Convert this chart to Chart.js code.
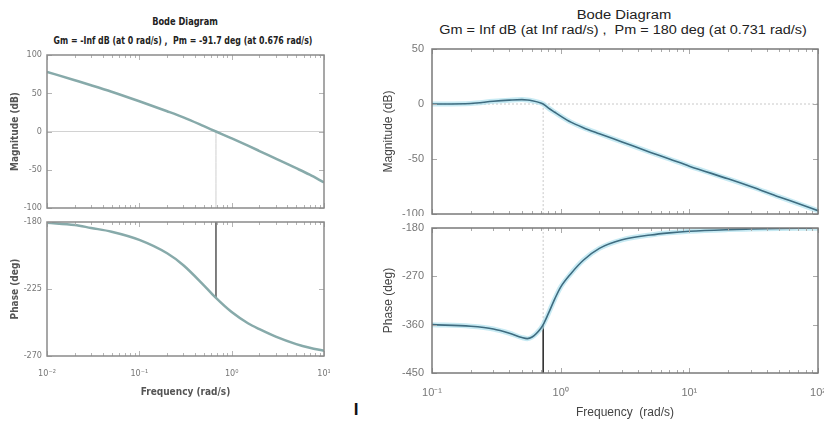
<!DOCTYPE html>
<html lang="en">
<head>
<meta charset="UTF-8">
<title>Bode Diagram</title>
<script src="https://cdn.jsdelivr.net/npm/chart.js"></script>
<style>
    body {
        margin: 0;
        width: 824px;
        height: 421px;
        background: #fff;
        position: relative;
        overflow: hidden;
        font-family: Arial, 'Liberation Sans', sans-serif;
    }
    canvas { position: absolute; }
    .ttl {
        position: absolute;
        white-space: pre;
        transform-origin: center center;
        color: #222;
    }
    .narrow { font-family: 'Liberation Sans Narrow', 'DejaVu Sans Condensed', 'Arial Narrow', Arial, sans-serif; font-weight: bold; font-size: 10px; }
    .wide { font-family: Arial, 'Liberation Sans', sans-serif; font-size: 12px; }
</style>
</head>
<body>
    <div class="ttl narrow" data-w="66" style="left:185px; top:21px;">Bode Diagram</div>
    <div class="ttl narrow" data-w="259" style="left:183px; top:40px;">Gm = -Inf dB (at 0 rad/s) ,  Pm = -91.7 deg (at 0.676 rad/s)</div>
    <div class="ttl wide" data-w="95" style="left:624px; top:15px;">Bode Diagram</div>
    <div class="ttl wide" data-w="367" style="left:623px; top:30px;">Gm = Inf dB (at Inf rad/s) ,  Pm = 180 deg (at 0.731 rad/s)</div>
    <div class="ttl" style="left:356px; top:410px; font: bold 17px Arial, sans-serif; color:#111;">I</div>

    <canvas id="magL" width="330" height="162" style="left:0; top:48px;"></canvas>
    <canvas id="phL" width="330" height="190" style="left:0; top:215px;"></canvas>
    <canvas id="magR" width="444" height="173" style="left:380px; top:43px;"></canvas>
    <canvas id="phR" width="444" height="199" style="left:380px; top:222px;"></canvas>

<script>
    // Left system
    const freqL = [0.01, 0.02, 0.03, 0.05, 0.1, 0.2, 0.3, 0.5, 0.676, 1, 1.5, 2, 3, 5, 7, 10];
    const magDbL = [78, 67, 60.5, 52, 39.5, 26.5, 18.5, 7, 0, -9, -18.5, -25.5, -35.5, -48, -56.5, -66.5];
    const phaseL = [-180.5, -182, -184, -186.5, -192, -201, -209, -222.5, -231, -240.5, -248, -252, -257, -262, -264.5, -266.5];
    const pmFreqL = 0.676;
    const pmPhaseL = -231;

    // Right system
    const freqR = [0.1, 0.2, 0.3, 0.4, 0.5, 0.55, 0.6, 0.7, 0.731, 0.8, 0.9, 1, 1.2, 1.5, 2, 3, 5, 7, 10, 20, 30, 50, 70, 100];
    const magDbR = [0, 0.5, 2.5, 3.5, 4, 3.7, 3, 1, 0, -3.5, -7.5, -11, -16.5, -21.5, -27, -34.5, -44, -50, -56.5, -68, -75, -84.5, -90.5, -97];
    const phaseR = [-360, -363, -368, -376, -384, -386, -383, -367, -360, -340, -312, -290, -265, -240, -218, -202, -193, -189, -186, -183, -182, -181, -180.5, -180.3];
    const pmFreqR = 0.731;

    // Axis ticks
    const xTicksL = [0.01, 0.1, 1, 10];
    const xLabelsL = ['10⁻²', '10⁻¹', '10⁰', '10¹'];
    const xTicksR = [0.1, 1, 10, 100];
    const xLabelsR = ['10⁻¹', '10⁰', '10¹', '10²'];
    const magTicksL = [-100, -50, 0, 50, 100];
    const phTicksL = [-270, -225, -180];
    const magTicksR = [-100, -50, 0, 50];
    const phTicksR = [-450, -360, -270, -180];

    const narrowFont = "'Liberation Sans Narrow', 'DejaVu Sans Condensed', 'Arial Narrow', Arial, sans-serif";
    const wideFont = "Arial, 'Liberation Sans', sans-serif";

    const pts = (xs, ys) => xs.map((x, i) => ({ x: x, y: ys[i] }));

    // box around the plot + inner ticks, like MATLAB
    const bodeBox = {
        id: 'bodeBox',
        afterDatasetsDraw(chart, args, opts) {
            const { ctx, chartArea: a } = chart;
            const xs = chart.scales.x, ys = chart.scales.y;
            ctx.save();
            ctx.strokeStyle = opts.tickColor;
            ctx.lineWidth = 1;
            ctx.beginPath();
            const lo = Math.floor(Math.log10(xs.min)), hi = Math.ceil(Math.log10(xs.max));
            for (let d = lo; d <= hi; d++) {
                for (let k = 1; k < 10; k++) {
                    const v = k * Math.pow(10, d);
                    if (v < xs.min * 0.999 || v > xs.max * 1.001) continue;
                    const px = Math.round(xs.getPixelForValue(v)) + 0.5;
                    const len = k === 1 ? 5 : 3;
                    ctx.moveTo(px, a.bottom); ctx.lineTo(px, a.bottom - len);
                    ctx.moveTo(px, a.top); ctx.lineTo(px, a.top + len);
                }
            }
            ys.ticks.forEach(t => {
                const py = Math.round(ys.getPixelForValue(t.value)) + 0.5;
                ctx.moveTo(a.left, py); ctx.lineTo(a.left + 5, py);
                ctx.moveTo(a.right, py); ctx.lineTo(a.right - 5, py);
            });
            ctx.stroke();
            ctx.strokeStyle = opts.color;
            ctx.lineWidth = opts.width;
            ctx.strokeRect(a.left, a.top, a.width, a.height);
            ctx.restore();
        }
    };

    function makeChart(id, c) {
        return new Chart(document.getElementById(id), {
            type: 'line',
            data: { datasets: c.datasets },
            options: {
                responsive: false,
                animation: false,
                layout: { padding: { top: c.padTop, right: c.padRight, left: 0, bottom: 0 } },
                elements: { point: { radius: 0 }, line: { cubicInterpolationMode: 'monotone' } },
                plugins: {
                    legend: { display: false },
                    tooltip: { enabled: false },
                    bodeBox: { color: c.boxColor, tickColor: c.minorColor, width: c.boxWidth }
                },
                scales: {
                    x: {
                        type: 'logarithmic',
                        min: c.xTicks[0],
                        max: c.xTicks[c.xTicks.length - 1],
                        grid: { display: false, drawTicks: false },
                        border: { display: false },
                        afterBuildTicks: s => { s.ticks = c.xTicks.map(v => ({ value: v })); },
                        ticks: {
                            display: c.showX,
                            autoSkip: false,
                            maxRotation: 0,
                            padding: c.xPad,
                            color: c.tickColor,
                            font: { family: c.font, size: c.tickSize, weight: c.tickWeight },
                            callback: (v, i) => c.xLabels[i]
                        },
                        title: {
                            display: c.showX,
                            text: c.xTitle,
                            color: c.titleColor,
                            padding: { top: 0, bottom: c.xTitlePad },
                            font: { family: c.font, size: c.titleSize, weight: c.titleWeight }
                        },
                        afterFit: s => { s.height = c.xHeight; s.paddingLeft = 0; s.paddingRight = 0; }
                    },
                    y: {
                        min: c.yTicks[0],
                        max: c.yTicks[c.yTicks.length - 1],
                        grid: { display: false, drawTicks: false },
                        border: { display: false },
                        afterBuildTicks: s => { s.ticks = c.yTicks.map(v => ({ value: v })); },
                        ticks: {
                            padding: c.yPad,
                            color: c.tickColor,
                            font: { family: c.font, size: c.tickSize, weight: c.tickWeight },
                            callback: v => String(v)
                        },
                        title: {
                            display: true,
                            text: c.yTitle,
                            color: c.titleColor,
                            padding: { top: c.yTitlePad, bottom: 0 },
                            font: { family: c.font, size: c.titleSize, weight: c.titleWeight }
                        },
                        afterFit: s => { s.width = c.yWidth; s.paddingTop = 0; s.paddingBottom = 0; }
                    }
                }
            },
            plugins: [bodeBox]
        });
    }

    const leftStyle = {
        font: narrowFont, tickSize: 9, tickWeight: 'normal', titleSize: 10, titleWeight: 'bold',
        tickColor: '#777', titleColor: '#555', boxColor: '#8a8a8a', minorColor: '#b5b5b5', boxWidth: 1.5,
        yWidth: 47, padRight: 6, yPad: 5, yTitlePad: 9, xTicks: xTicksL, xLabels: xLabelsL,
        xTitle: 'Frequency (rad/s)'
    };
    const rightStyle = {
        font: wideFont, tickSize: 11, tickWeight: 'normal', titleSize: 12, titleWeight: 'normal',
        tickColor: '#777', titleColor: '#444', boxColor: '#7a7a7a', minorColor: '#aaa', boxWidth: 1.5,
        yWidth: 52, padRight: 6, yPad: 8, yTitlePad: 1, xTicks: xTicksR, xLabels: xLabelsR,
        xTitle: 'Frequency  (rad/s)'
    };

    const curveL = 'rgb(135,170,170)';
    const curveR = 'rgb(62,108,128)';
    const haloR = 'rgba(175,225,238,0.7)';

    makeChart('magL', Object.assign({}, leftStyle, {
        padTop: 7, xHeight: 2, showX: false, xPad: 0, xTitlePad: 0,
        yTicks: magTicksL, yTitle: 'Magnitude (dB)',
        datasets: [
            { data: pts(freqL, magDbL), borderColor: curveL, borderWidth: 2.5 },
            { data: [{ x: xTicksL[0], y: 0 }, { x: xTicksL[3], y: 0 }], borderColor: '#d2d2d2', borderWidth: 1 },
            { data: [{ x: pmFreqL, y: 0 }, { x: pmFreqL, y: -100 }], borderColor: '#cfcfcf', borderWidth: 1 }
        ]
    }));

    makeChart('phL', Object.assign({}, leftStyle, {
        padTop: 7, xHeight: 49, showX: true, xPad: 12, xTitlePad: 7,
        yTicks: phTicksL, yTitle: 'Phase (deg)',
        datasets: [
            { data: pts(freqL, phaseL), borderColor: curveL, borderWidth: 2.5 },
            { data: [{ x: pmFreqL, y: -180 }, { x: pmFreqL, y: pmPhaseL }], borderColor: '#555', borderWidth: 1.5 }
        ]
    }));

    makeChart('magR', Object.assign({}, rightStyle, {
        padTop: 6, xHeight: 2, showX: false, xPad: 0, xTitlePad: 0,
        yTicks: magTicksR, yTitle: 'Magnitude (dB)',
        datasets: [
            { data: pts(freqR, magDbR), borderColor: curveR, borderWidth: 1.6 },
            { data: pts(freqR, magDbR), borderColor: haloR, borderWidth: 5 },
            { data: [{ x: xTicksR[0], y: 0 }, { x: xTicksR[3], y: 0 }], borderColor: '#c8c8c8', borderWidth: 1, borderDash: [2, 2] },
            { data: [{ x: pmFreqR, y: 0 }, { x: pmFreqR, y: -100 }], borderColor: '#c8c8c8', borderWidth: 1, borderDash: [2, 2] }
        ]
    }));

    makeChart('phR', Object.assign({}, rightStyle, {
        padTop: 6, xHeight: 48, showX: true, xPad: 13, xTitlePad: 1,
        yTicks: phTicksR, yTitle: 'Phase (deg)',
        datasets: [
            { data: pts(freqR, phaseR), borderColor: curveR, borderWidth: 1.6 },
            { data: pts(freqR, phaseR), borderColor: haloR, borderWidth: 5 },
            { data: [{ x: pmFreqR, y: -180 }, { x: pmFreqR, y: -360 }], borderColor: '#c8c8c8', borderWidth: 1, borderDash: [2, 2] },
            { data: [{ x: pmFreqR, y: -360 }, { x: pmFreqR, y: -450 }], borderColor: '#222', borderWidth: 1.5 }
        ]
    }));

    // squeeze titles to the widths seen in the picture
    document.querySelectorAll('.ttl').forEach(el => {
        const w = parseFloat(el.dataset.w);
        const k = w ? w / el.offsetWidth : 1;
        el.style.transform = `translate(-50%, -50%) scaleX(${k})`;
    });
</script>
</body>
</html>
